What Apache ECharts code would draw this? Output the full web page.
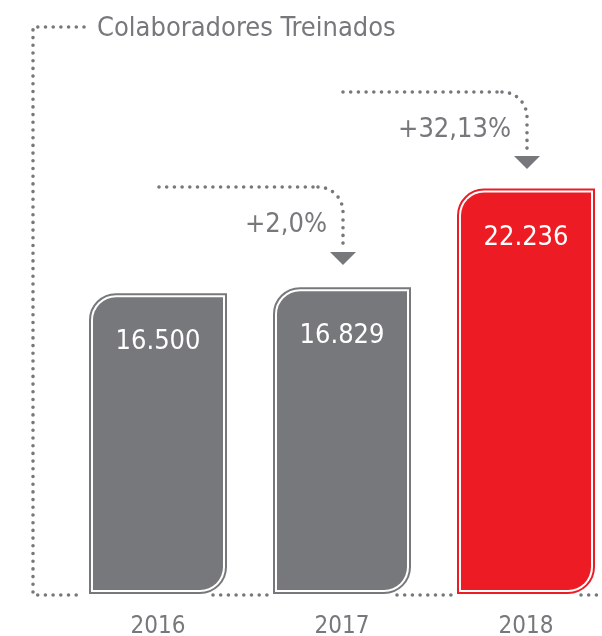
<!DOCTYPE html>
<html>
<head>
<meta charset="utf-8">
<script src="https://cdn.jsdelivr.net/npm/echarts@6/dist/echarts.min.js"></script>
<style>
html,body{margin:0;padding:0;background:#fff;}
#chart{width:602px;height:636px;}
</style>
</head>
<body>
<div id="chart"></div>
<script>
const categories = ['2016', '2017', '2018'];
const values = [16500, 16829, 22236];
const growthLabels = ['+2,0%', '+32,13%'];
const titleText = 'Colaboradores Treinados';

const GRAY = '#77787b';
const RED = '#ed1c24';
const FONT = '"Liberation Sans Narrow", "DejaVu Sans Condensed", "Roboto", sans-serif';

function fmt(v) {
  return String(Math.round(v)).replace(/\B(?=(\d{3})+(?!\d))/g, '.');
}

const chart = echarts.init(document.getElementById('chart'), null, {renderer: 'canvas'});

const dotStyle = {stroke: GRAY, lineWidth: 3.6, lineDash: [0, 7.7], lineCap: 'round', fill: null};

function arrow(x1, x2, y, tipY, label) {
  const r = 25;
  return [
    {type: 'polyline', z: 1, shape: {points: [[x1, y], [x2 - r, y]]}, style: dotStyle},
    {type: 'arc', z: 1, shape: {cx: x2 - r, cy: y + r, r: r, startAngle: -Math.PI / 2, endAngle: 0}, style: dotStyle},
    {type: 'polyline', z: 1, shape: {points: [[x2, y + r + 8], [x2, tipY - 17]]}, style: dotStyle},
    {type: 'polygon', z: 1, shape: {points: [[x2 - 13, tipY - 13], [x2 + 13, tipY - 13], [x2, tipY]]}, style: {fill: GRAY}},
    {type: 'text', z: 1, style: {text: label, x: x2 - 16, y: y + 38, align: 'right', verticalAlign: 'middle', fill: GRAY, fontSize: 27, fontFamily: FONT}}
  ];
}

const option = {
  animation: false,
  backgroundColor: '#fff',
  grid: {left: 66, width: 552, top: 47, bottom: 42, outerBoundsMode: 'none', containLabel: false},
  xAxis: {
    type: 'category',
    data: categories,
    axisLine: {show: false},
    axisTick: {show: false},
    axisLabel: {color: GRAY, fontSize: 24, margin: 21, fontFamily: FONT}
  },
  yAxis: {type: 'value', min: 0, max: 30000, show: false, splitLine: {show: false}},
  graphic: [
    {type: 'polyline', z: 1, shape: {points: [[84, 27], [33, 27], [33, 595], [82, 595]]}, style: dotStyle},
    {type: 'polyline', z: 1, shape: {points: [[213, 595], [267, 595]]}, style: dotStyle},
    {type: 'polyline', z: 1, shape: {points: [[397, 595], [451, 595]]}, style: dotStyle},
    {type: 'polyline', z: 1, shape: {points: [[581, 595], [605, 595]]}, style: dotStyle},
    {type: 'text', z: 1, style: {text: titleText, x: 97, y: 29, align: 'left', verticalAlign: 'middle', fill: GRAY, fontSize: 27, fontFamily: FONT}}
  ].concat(arrow(159, 343, 187, 265, growthLabels[0]), arrow(343, 527, 92, 169, growthLabels[1])),
  series: [{
    type: 'custom',
    z: 2,
    data: values.map((v, i) => [i, v]),
    renderItem: function (params, api) {
      const idx = api.value(0);
      const v = api.value(1);
      const top = api.coord([idx, v]);
      const base = api.coord([idx, 0]);
      const bw = api.size([1, 0])[0] * 0.75;
      const x0 = top[0] - bw / 2;
      const y0 = top[1];
      const h = base[1] - top[1];
      const color = idx === categories.length - 1 ? RED : GRAY;
      return {
        type: 'group',
        children: [
          {type: 'rect', shape: {x: x0 + 1, y: y0 + 1, width: bw - 2, height: h - 2, r: [26, 0, 26, 0]}, style: {fill: '#fff', stroke: color, lineWidth: 2}},
          {type: 'rect', shape: {x: x0 + 4, y: y0 + 4, width: bw - 8, height: h - 8, r: [23, 0, 23, 0]}, style: {fill: color}},
          {type: 'text', style: {text: fmt(v), x: top[0], y: y0 + 49, align: 'center', verticalAlign: 'middle', fill: '#fff', fontSize: 27, fontFamily: FONT}}
        ]
      };
    }
  }]
};
chart.setOption(option);
</script>
</body>
</html>
